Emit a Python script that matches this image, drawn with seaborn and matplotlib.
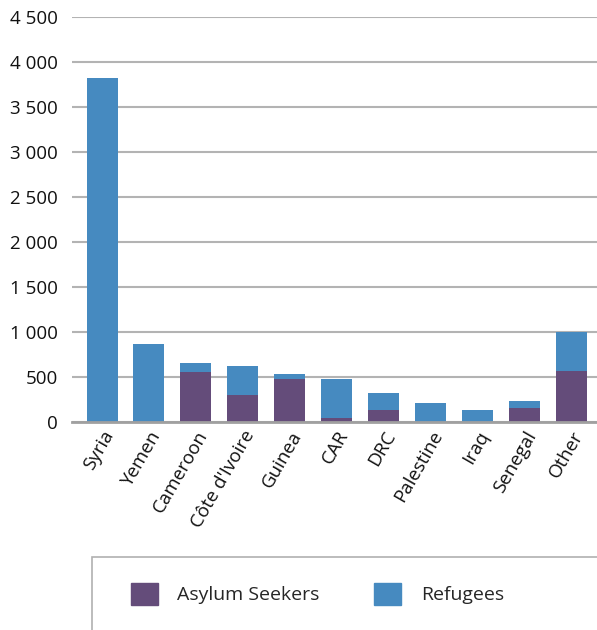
import matplotlib
matplotlib.use("Agg")
import matplotlib.pyplot as plt
from matplotlib.patches import Rectangle, Patch
from matplotlib.ticker import FuncFormatter
import seaborn as sns
import pandas as pd

# data
countries = ["Syria", "Yemen", "Cameroon", "Côte d'Ivoire", "Guinea", "CAR",
             "DRC", "Palestine", "Iraq", "Senegal", "Other"]
asylum_seekers = [0, 0, 556, 300, 478, 44, 133, 0, 0, 156, 567]
refugees = [3822, 867, 100, 322, 55, 434, 189, 211, 133, 77, 433]

df = pd.DataFrame({"Country": countries,
                   "Asylum Seekers": asylum_seekers,
                   "Refugees": refugees})
df["Total"] = df["Asylum Seekers"] + df["Refugees"]

c_asylum = "#644c7a"
c_refugee = "#468ac0"

sns.set_style("white")
plt.rcParams["font.family"] = ["Open Sans", "DejaVu Sans"]

fig = plt.figure(figsize=(5.97, 6.30), dpi=100)
ax = fig.add_axes([0.1206, 0.330, 0.8794, 0.643])

sns.barplot(data=df, x="Country", y="Total", color=c_refugee, width=0.66,
            saturation=1, linewidth=0, ax=ax)
sns.barplot(data=df, x="Country", y="Asylum Seekers", color=c_asylum, width=0.66,
            saturation=1, linewidth=0, ax=ax)

ax.set_ylim(0, 4500)
ax.set_xlim(-0.64, 10.55)
ax.set_yticks(range(0, 4501, 500))
ax.yaxis.set_major_formatter(FuncFormatter(lambda v, p: f"{int(v):,}".replace(",", " ")))
ax.grid(axis="y", color="#b3b3b3", linewidth=1.5)
ax.set_axisbelow(True)
for s in ["left", "right", "top"]:
    ax.spines[s].set_visible(False)
ax.spines["bottom"].set_color("#a0a0a0")
ax.spines["bottom"].set_linewidth(2)
ax.set_xlabel("")
ax.set_ylabel("")
ax.tick_params(axis="y", length=0, labelsize=13.5, pad=10, labelcolor="#111111")
ax.tick_params(axis="x", length=0, labelsize=13.5, pad=4, labelcolor="#111111")
plt.setp(ax.get_xticklabels(), rotation=60, ha="right", rotation_mode="anchor")

# legend box
fig.patches.append(Rectangle((92 / 597, -0.05), 0.9, 0.05 + 73 / 630,
                             transform=fig.transFigure, fill=False,
                             edgecolor="#b0b0b0", linewidth=1.2))
handles = [Patch(color=c_asylum, label="Asylum Seekers"),
           Patch(color=c_refugee, label="Refugees")]
fig.legend(handles=handles, loc="center left", bbox_to_anchor=(113 / 597, 36 / 630),
           ncol=2, frameon=False, fontsize=14, handlelength=1.4, handleheight=1.4,
           columnspacing=2.8, handletextpad=1.0)

fig.savefig("out.png", dpi=100)
